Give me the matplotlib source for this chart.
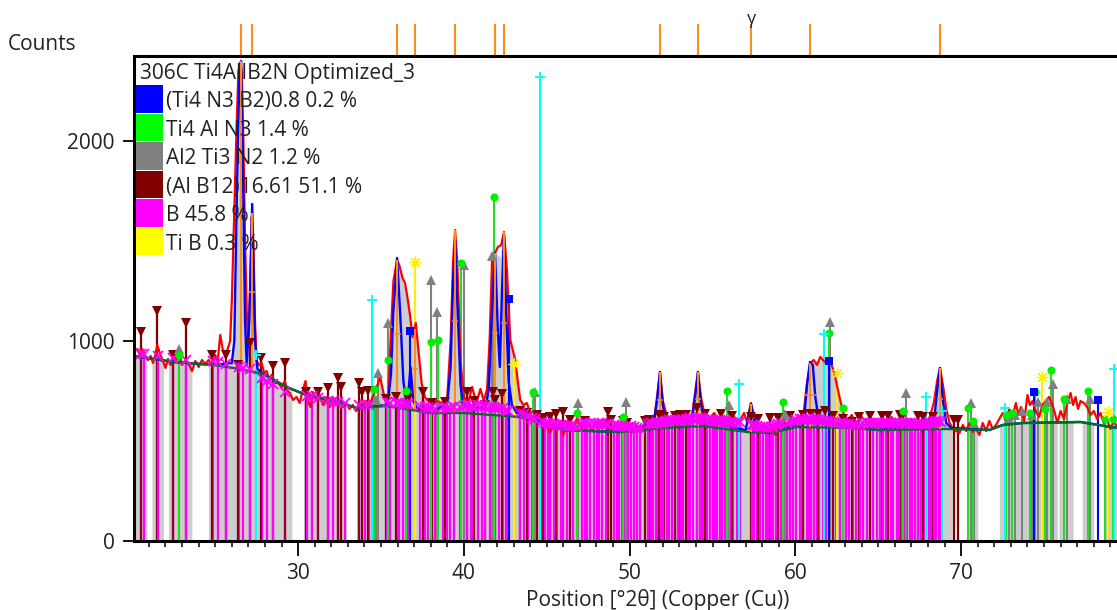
import numpy as np
import matplotlib
matplotlib.use('Agg')
import matplotlib.pyplot as plt
from matplotlib.patches import Rectangle

plt.rcParams['font.family'] = ['Open Sans', 'DejaVu Sans']

# measured profile (red)
obs_x = [20.1, 20.3, 20.45, 20.6, 20.8, 20.95, 21.1, 21.25, 21.4, 21.5, 21.7, 21.85, 22.0, 22.15, 22.3, 22.5, 22.65, 22.8, 23.0, 23.2,
         23.4, 23.6, 23.8, 24.0, 24.2, 24.4, 24.6, 24.8, 25.0, 25.15, 25.3, 25.45, 25.6, 25.75, 25.9, 26.0, 26.1, 26.2, 26.3, 26.4,
         26.5, 26.6, 26.7, 26.8, 26.9, 27.0, 27.1, 27.2, 27.3, 27.4, 27.5, 27.65, 27.8, 27.95, 28.1, 28.25, 28.4, 28.6, 28.8, 29.0,
         29.2, 29.35, 29.5, 29.7, 29.9, 30.1, 30.3, 30.45, 30.6, 30.75, 30.9, 31.1, 31.3, 31.5, 31.7, 31.9, 32.1, 32.3, 32.5, 32.7,
         32.9, 33.1, 33.3, 33.5, 33.7, 33.9, 34.1, 34.3, 34.5, 34.7, 34.95, 35.15, 35.3, 35.45, 35.6, 35.75, 35.97, 36.1, 36.3, 36.45,
         36.6, 36.75, 36.9, 37.1, 37.3, 37.45, 37.65, 37.85, 38.1, 38.4, 38.7, 39.0, 39.2, 39.35, 39.47, 39.6, 39.8, 40.0, 40.25, 40.5,
         40.75, 41.0, 41.2, 41.4, 41.55, 41.7, 41.88, 42.05, 42.25, 42.42, 42.6, 42.8, 43.1, 43.25, 43.4, 43.6, 43.8, 44.0, 44.2, 44.4,
         44.6, 44.8, 45.0, 45.2, 45.4, 45.6, 45.8, 46.0, 46.3, 46.6, 46.8, 47.1, 47.4, 47.7, 48.0, 48.3, 48.6, 48.9, 49.2, 49.5,
         49.8, 50.1, 50.4, 50.7, 51.0, 51.3, 51.5, 51.65, 51.83, 52.0, 52.2, 52.4, 52.7, 53.0, 53.3, 53.6, 53.8, 53.95, 54.12, 54.3,
         54.5, 54.8, 55.1, 55.4, 55.7, 56.0, 56.3, 56.5, 56.7, 56.9, 57.1, 57.2, 57.32, 57.45, 57.65, 57.9, 58.2, 58.5, 58.8, 59.1,
         59.4, 59.7, 60.0, 60.3, 60.5, 60.7, 60.9, 61.1, 61.3, 61.5, 61.7, 61.9, 62.1, 62.3, 62.5, 62.7, 62.9, 63.1, 63.4, 63.7,
         64.0, 64.3, 64.6, 64.9, 65.2, 65.5, 65.8, 66.1, 66.4, 66.7, 67.0, 67.3, 67.6, 67.9, 68.1, 68.35, 68.55, 68.72, 68.9, 69.1,
         69.3, 69.5, 69.7, 69.9, 70.1, 70.3, 70.5, 70.7, 70.9, 71.1, 71.3, 71.5, 71.7, 71.9, 72.1, 72.3, 72.5, 72.7, 72.9, 73.1,
         73.3, 73.45, 73.6, 73.8, 74.0, 74.15, 74.3, 74.5, 74.7, 74.9, 75.1, 75.3, 75.5, 75.65, 75.8, 76.0, 76.2, 76.4, 76.6, 76.75,
         76.9, 77.05, 77.2, 77.4, 77.6, 77.8, 78.0, 78.2, 78.4, 78.6, 78.8, 79.0, 79.2, 79.4]
obs_y = [945, 960, 930, 960, 920, 905, 925, 890, 935, 980, 930, 900, 865, 910, 880, 930, 900, 950, 880, 905,
         885, 850, 900, 870, 905, 885, 905, 875, 930, 900, 1030, 960, 920, 960, 1000, 1200, 1500, 1800, 2100, 2350,
         2390, 2350, 2000, 1500, 1150, 980, 1250, 1620, 1500, 1100, 900, 880, 890, 840, 850, 810, 830, 790, 790, 770,
         800, 750, 740, 705, 720, 690, 760, 800, 700, 670, 745, 710, 730, 680, 720, 670, 710, 680, 690, 670,
         690, 660, 680, 650, 690, 670, 700, 680, 720, 760, 820, 740, 700, 740, 1050, 1300, 1405, 1380, 1315, 1290,
         1215, 1130, 1020, 1090, 920, 790, 720, 700, 680, 700, 690, 720, 1000, 1400, 1555, 1400, 900, 720, 690, 770,
         690, 760, 700, 760, 1000, 1400, 1440, 1470, 1480, 1545, 1350, 1005, 905, 800, 705, 680, 690, 640, 650, 600,
         620, 570, 590, 540, 590, 550, 600, 530, 600, 550, 610, 560, 600, 550, 590, 570, 610, 560, 590, 550,
         590, 540, 580, 550, 590, 570, 620, 720, 845, 700, 640, 600, 620, 590, 630, 600, 650, 740, 845, 720,
         640, 610, 640, 590, 620, 580, 620, 590, 610, 640, 590, 640, 690, 640, 570, 560, 540, 570, 530, 570,
         590, 560, 610, 590, 640, 790, 890, 905, 880, 920, 900, 890, 895, 855, 780, 705, 640, 600, 630, 580,
         620, 590, 610, 570, 600, 570, 620, 580, 610, 590, 610, 570, 600, 580, 620, 690, 800, 865, 780, 660,
         590, 560, 550, 540, 580, 550, 590, 545, 560, 530, 590, 550, 600, 560, 580, 610, 640, 600, 660, 620,
         690, 630, 670, 600, 730, 680, 700, 650, 620, 680, 700, 720, 680, 640, 590, 650, 610, 690, 740, 680,
         720, 660, 700, 690, 670, 630, 650, 610, 640, 590, 610, 560, 600, 570]

# calculated profile (blue)
calc_x = [20.1, 22.5, 24.9, 26.0, 26.15, 26.3, 26.45, 26.56, 26.7, 26.8, 26.9, 27.05, 27.12, 27.23, 27.4, 27.55, 27.9, 29.3, 30.5, 32.3,
          33.54, 35.35, 35.45, 35.6, 35.75, 35.97, 36.15, 36.35, 36.5, 36.6, 36.78, 36.95, 37.2, 38.0, 39.0, 39.2, 39.35, 39.47, 39.6, 39.8,
          39.95, 41.3, 41.5, 41.7, 41.88, 42.05, 42.17, 42.3, 42.42, 42.55, 42.7, 42.9, 43.2, 46.0, 49.4, 51.45, 51.65, 51.83, 52.0, 52.2,
          53.75, 53.95, 54.12, 54.3, 54.5, 57.0, 57.2, 57.32, 57.45, 57.65, 58.5, 60.5, 60.7, 60.88, 61.05, 61.2, 61.4, 63.5, 65.1, 68.35,
          68.55, 68.72, 68.9, 69.1, 69.4, 71.7, 72.5, 73.7, 77.2, 79.4]
calc_y = [925, 895, 880, 890, 1000, 1700, 2300, 2400, 1700, 1100, 880, 1100, 1300, 1685, 1000, 860, 835, 770, 730, 697,
          665, 680, 720, 830, 1150, 1415, 1150, 800, 710, 690, 870, 700, 660, 640, 690, 870, 1300, 1500, 1200, 780,
          680, 660, 760, 1150, 1440, 1050, 870, 1250, 1530, 1150, 800, 680, 640, 555, 545, 590, 700, 845, 680, 590,
          600, 720, 845, 690, 600, 555, 640, 685, 630, 550, 540, 590, 780, 895, 880, 720, 610, 565, 555, 590,
          750, 865, 700, 590, 565, 555, 580, 590, 595, 565]

# background (green)
bg_x = [20.1, 22.48, 24.9, 26.5, 27.9, 29.3, 30.5, 32.3, 33.54, 35.35, 38.0, 40.0, 43.4, 46.0, 49.4, 52.0, 54.4, 57.1, 58.5, 60.1,
        63.5, 65.1, 69.1, 71.7, 72.5, 73.7, 77.2, 79.4]
bg_y = [925, 895, 880, 860, 835, 770, 730, 697, 665, 675, 640, 640, 620, 555, 545, 565, 575, 545, 540, 570,
        565, 555, 560, 555, 580, 590, 595, 565]

# envelope of the grey filled area
fill_x = [20.1, 22.48, 24.9, 25.9, 26.15, 26.56, 26.95, 27.05, 27.23, 27.5, 27.9, 29.3, 30.5, 32.3, 33.54, 34.6, 34.95, 35.3, 35.45, 35.6,
          35.97, 36.3, 36.6, 36.9, 37.1, 37.45, 37.8, 39.0, 39.2, 39.47, 39.8, 40.0, 41.3, 41.55, 41.88, 42.17, 42.42, 42.8, 43.1, 43.4,
          44.0, 46.0, 49.4, 51.45, 51.83, 52.2, 53.75, 54.12, 54.5, 57.0, 57.32, 57.65, 58.5, 60.3, 60.9, 61.5, 62.3, 62.7, 63.1, 65.1,
          68.35, 68.72, 69.1, 71.7, 72.5, 73.7, 77.2, 79.4]
fill_y = [925, 895, 880, 880, 1000, 2390, 950, 950, 1680, 860, 835, 770, 730, 697, 665, 690, 810, 680, 720, 830,
          1405, 1300, 1200, 1020, 1060, 790, 680, 690, 870, 1540, 780, 660, 660, 1000, 1440, 1420, 1530, 1005, 900, 705,
          640, 555, 545, 590, 845, 590, 600, 845, 600, 555, 685, 550, 540, 590, 890, 905, 860, 700, 590, 555,
          590, 865, 590, 555, 580, 590, 595, 565]
band_start = [20.17, 21.18, 22.18, 24.59, 30.32, 33.54, 70.35, 72.3, 75.9, 77.3, 78.7]
band_end = [20.88, 21.88, 23.59, 29.62, 32.93, 69.45, 71.0, 75.8, 76.75, 78.0, 79.4]

# reference sticks per phase
magenta_x = [20.53, 20.73, 21.52, 22.48, 23.25, 24.85, 25.14, 25.66, 26.42, 26.66,
             27.10, 27.81, 28.11, 28.51, 29.22, 30.52, 30.83, 31.23, 31.83, 32.09,
             32.43, 32.83, 33.70, 34.04, 34.30, 35.35, 35.95, 36.35, 36.65, 37.36,
             37.66, 37.86, 38.26, 38.77, 39.17, 39.77, 40.17, 40.58, 40.88, 41.28,
             41.58, 41.88, 42.39, 42.69, 43.39, 43.89, 44.29, 44.90, 45.20, 45.60,
             46.00, 46.40, 46.81, 47.31, 47.61, 48.01, 48.31, 48.72, 49.22, 49.52,
             49.92, 50.10, 50.47, 51.27, 51.43, 51.73, 52.03, 52.54, 52.94, 53.24,
             53.44, 53.64, 54.24, 54.44, 54.65, 55.05, 55.25, 55.45, 55.55, 56.05,
             56.25, 56.65, 57.36, 57.66, 58.06, 58.36, 58.67, 58.97, 59.47, 59.87,
             60.27, 60.47, 60.67, 60.97, 61.28, 61.68, 62.28, 62.68, 63.08, 63.48,
             63.88, 64.09, 64.50, 64.90, 65.30, 65.60, 65.90, 66.40, 66.90, 67.20,
             67.60, 67.90, 68.20, 68.50, 68.80,
             38.00, 39.00, 39.40, 40.00, 40.40, 41.10, 41.75, 42.10, 42.55, 43.60,
             44.10, 44.70, 45.05, 45.45, 45.85, 46.20, 46.60, 47.15, 47.45, 47.85,
             48.15, 48.55, 49.05, 49.35, 49.70, 50.25, 50.65, 51.10, 51.58, 51.90,
             52.25, 52.40, 52.75, 53.10, 53.55, 53.85, 54.05, 54.34, 54.85, 55.15,
             55.75, 55.90, 56.15, 56.45, 57.50, 57.85, 58.20, 58.50, 58.82, 59.15,
             59.65, 60.05, 60.37, 60.82, 61.12, 61.45, 61.85, 62.05, 62.45, 62.85,
             63.25, 63.65, 64.30, 64.70, 65.10, 65.45, 65.75, 66.10, 66.25, 66.60,
             66.75, 67.05, 67.40, 67.75, 68.05, 68.35, 68.65, 35.55, 36.10, 36.50]
magenta_y = [935, 935, 925, 915, 905, 900, 895, 885, 870, 865,
             860, 815, 800, 785, 745, 725, 725, 715, 700, 700,
             695, 690, 680, 680, 680, 695, 690, 685, 685, 675,
             670, 665, 660, 670, 665, 670, 680, 670, 680, 675,
             670, 665, 665, 650, 640, 625, 610, 590, 585, 580,
             580, 575, 570, 590, 585, 585, 590, 585, 580, 575,
             570, 575, 565, 590, 585, 590, 595, 605, 605, 605,
             610, 615, 615, 610, 605, 605, 600, 605, 600, 595,
             590, 595, 580, 575, 570, 565, 570, 585, 590, 600,
             610, 605, 610, 605, 610, 600, 595, 590, 585, 580,
             580, 590, 590, 590, 590, 590, 585, 590, 590, 585,
             585, 585, 590, 600, 595,
             665, 665, 670, 675, 675, 680, 670, 665, 655, 635,
             615, 595, 590, 585, 580, 575, 575, 590, 585, 585,
             590, 585, 580, 575, 570, 570, 565, 585, 590, 590,
             600, 605, 605, 605, 612, 612, 615, 612, 605, 600,
             600, 595, 592, 592, 578, 572, 568, 568, 578, 588,
             595, 605, 608, 608, 608, 605, 600, 598, 592, 588,
             583, 580, 590, 590, 590, 590, 588, 587, 590, 590,
             590, 588, 585, 585, 588, 595, 598, 692, 688, 685]

brown_x = [20.50, 21.50, 22.44, 23.22, 24.82, 25.63, 26.40, 27.08, 27.79, 28.49,
           29.20, 30.50, 31.21, 31.81, 32.41, 32.60, 33.68, 33.85, 34.20, 35.33,
           35.93, 36.63, 37.56, 38.10, 38.87, 40.20, 40.60, 41.26, 41.76, 41.90,
           42.30, 43.37, 43.80, 44.40, 44.80, 45.18, 45.58, 45.98, 46.38, 47.29,
           48.70, 48.90, 49.58, 49.82, 50.93, 51.17, 51.77, 52.09, 52.74, 53.04,
           53.42, 54.08, 54.55, 55.53, 56.15, 57.34, 57.76, 58.47, 58.95, 59.67,
           60.45, 60.95, 61.38, 61.78, 62.26, 62.89, 63.39, 63.86, 64.48, 65.20,
           65.58, 66.30, 66.50, 67.40, 67.70, 68.30, 69.56, 69.82]
brown_y = [1045, 1150, 930, 1090, 930, 930, 880, 990, 915, 875,
           890, 745, 745, 765, 815, 770, 790, 745, 750, 710,
           720, 710, 745, 690, 695, 745, 700, 680, 745, 705,
           735, 650, 640, 630, 615, 620, 635, 645, 605, 600,
           645, 605, 600, 590, 600, 605, 630, 620, 625, 630,
           630, 665, 635, 635, 625, 620, 610, 615, 615, 625,
           630, 635, 635, 650, 625, 610, 595, 620, 625, 625,
           625, 630, 630, 625, 620, 620, 605, 605]

grey_x = [22.84, 34.70, 34.84, 35.40, 38.00, 38.40, 40.00, 41.70, 44.30, 46.90,
          49.76, 56.00, 59.40, 62.08, 66.70, 70.57, 70.80, 72.90, 73.25, 73.67,
          74.30, 74.65, 75.20, 75.55, 76.40, 77.77]
grey_y = [960, 705, 840, 1090, 1305, 1145, 1380, 1425, 745, 690,
          695, 680, 635, 1095, 740, 690, 590, 615, 630, 650,
          630, 695, 695, 785, 710, 710]

green_x = [22.83, 34.60, 35.45, 36.50, 38.00, 38.44, 39.80, 41.80, 44.20, 46.80,
           49.60, 55.90, 59.25, 62.00, 62.85, 66.50, 70.40, 70.70, 72.70, 73.06,
           74.15, 74.45, 75.05, 75.40, 76.20, 77.65, 78.67, 79.16]
green_y = [930, 760, 905, 750, 995, 1005, 1390, 1720, 745, 640,
           620, 750, 695, 1040, 665, 650, 665, 600, 630, 640,
           640, 745, 660, 855, 710, 750, 610, 610]

cyan_x = [27.45, 34.46, 44.60, 56.60, 61.72, 67.90, 68.85, 72.64, 79.20]
cyan_y = [930, 1205, 2320, 785, 1035, 720, 650, 665, 860]

blue_x = [36.78, 42.72, 62.03, 74.37, 78.25]
blue_y = [1050, 1210, 900, 745, 705]

yellow_x = [37.06, 43.05, 62.50, 74.90, 78.87]
yellow_y = [1395, 885, 840, 820, 645]

# fitted peaks (orange)
peak_x = [26.56, 27.23, 35.97, 37.06, 39.47, 41.88, 42.42, 51.83, 54.12, 57.32, 60.88, 68.72]
peak_y = [2400, 1640, 1405, 1060, 1555, 1440, 1545, 845, 845, 685, 890, 865]
peak_base = [870, 850, 670, 660, 650, 640, 635, 565, 575, 545, 570, 560]
peak_fwhm = [0.28, 0.22, 0.32, 0.28, 0.2, 0.28, 0.28, 0.2, 0.26, 0.2, 0.6, 0.26]

legend_labels = ['(Ti4 N3 B2)0.8 0.2 %', 'Ti4 Al N3 1.4 %', 'Al2 Ti3 N2 1.2 %',
                 '(Al B12)16.61 51.1 %', 'B 45.8 %', 'Ti B 0.3 %']
legend_colors = ['#0000ff', '#00ff00', '#808080', '#800000', '#ff00ff', '#ffff00']
title_text = '306C Ti4AlIB2N Optimized_3'

W, H = 1117, 610
fig = plt.figure(figsize=(W / 100, H / 100), dpi=100)
ax = fig.add_axes([134 / W, 1 - 541 / H, (W - 134) / W, (541 - 56) / H])
ax.set_xlim(20.1, 79.4)
ax.set_ylim(0, 2425)


def to_fig(px, py):
    return px / W, 1 - py / H


# grey bands under the envelope
for a, b in zip(band_start, band_end):
    inner = [x for x in fill_x if a < x < b]
    xs = np.array([a] + inner + [b])
    ys = np.interp(xs, fill_x, fill_y)
    ax.fill_between(xs, 0, ys, color='#cdcdcd', lw=0, zorder=1)

stick_lw = 1.5
ax.vlines(brown_x, 0, brown_y, color='#800000', lw=1.6, zorder=2)
ax.vlines(magenta_x, 0, magenta_y, color='#ff00ff', lw=1.6, zorder=2.1)
ax.vlines(brown_x[::2], 0, brown_y[::2], color='#800000', lw=1.2, zorder=2.15)
ax.vlines(grey_x, 0, grey_y, color='#808080', lw=stick_lw, zorder=2.2)
ax.vlines(green_x, 0, green_y, color='#22dd22', lw=stick_lw, zorder=2.3)
ax.vlines(blue_x, 0, blue_y, color='#0000ff', lw=stick_lw, zorder=2.4)
ax.vlines(yellow_x, 0, yellow_y, color='#ffee00', lw=stick_lw, zorder=2.5)
ax.vlines(cyan_x, 0, cyan_y, color='#00ffff', lw=stick_lw, zorder=2.6)

ax.plot(obs_x, obs_y, color='#ff0000', lw=1.6, zorder=3)
ax.plot(calc_x, calc_y, color='#0000ff', lw=1.7, zorder=3.1)
ax.plot(bg_x, bg_y, color='#007020', lw=1.7, zorder=3.2)

# orange fitted peak markers, plus the ticks above the frame
orange = '#ff8c1a'
ax.vlines(peak_x, peak_base, peak_y, color=orange, lw=1.5, zorder=3.3)
for x, y, b, w in zip(peak_x, peak_y, peak_base, peak_fwhm):
    ax.plot([x - w / 2, x + w / 2], [(y + b) / 2, (y + b) / 2], color=orange, lw=1.2, zorder=3.3)
ax.vlines(peak_x, 1, 1 + 32 / 485, color=orange, lw=1.5, clip_on=False,
          transform=ax.get_xaxis_transform(), zorder=5)

ax.plot(brown_x, brown_y, ls='', marker='v', ms=7, color='#800000', mew=0, zorder=4)
ax.plot(magenta_x, magenta_y, ls='', marker='x', ms=6.5, color='#ff00ff', mew=1.3, zorder=4.1)
ax.plot(grey_x, grey_y, ls='', marker='^', ms=7, color='#808080', mew=0, zorder=4.2)
ax.plot(green_x, green_y, ls='', marker='o', ms=5.8, color='#00ee00', mew=0, zorder=4.3)
ax.plot(blue_x, blue_y, ls='', marker='s', ms=5.5, color='#0000ff', mew=0, zorder=4.4)
ax.plot(yellow_x, yellow_y, ls='', marker=(8, 2, 0), ms=8.5, color='#ffee00', mew=0.9, zorder=4.5)
ax.plot(cyan_x, cyan_y, ls='', marker='+', ms=7, color='#00ffff', mew=1.4, zorder=4.6)

ax.spines['right'].set_visible(False)
for s in ['left', 'top', 'bottom']:
    ax.spines[s].set_linewidth(2.2)
    ax.spines[s].set_zorder(6)
ax.set_xticks([30, 40, 50, 60, 70])
ax.set_xticks(np.arange(21, 80), minor=True)
ax.set_yticks([0, 1000, 2000])
ax.tick_params(axis='x', which='major', length=11, width=1.3, labelsize=15, pad=5, labelcolor='#222222')
ax.tick_params(axis='x', which='minor', length=4, width=1.1)
ax.tick_params(axis='y', which='major', length=8, width=1.3, labelsize=15, pad=6, labelcolor='#222222')

# legend block
for i, (lab, col) in enumerate(zip(legend_labels, legend_colors)):
    top = 85 + i * 28.5
    x0, y0 = to_fig(135.5, top + 27.5)
    fig.add_artist(Rectangle((x0, y0), 27.5 / W, 27.5 / H, transform=fig.transFigure, color=col, lw=0, zorder=7))
    fx, fy = to_fig(166, top + 16.5)
    fig.text(fx, fy, lab, fontsize=15, color='#222222', va='center', ha='left', zorder=8)
fx, fy = to_fig(140, 73)
fig.text(fx, fy, title_text, fontsize=15, color='#222222', va='center', ha='left', zorder=8)

fx, fy = to_fig(8, 44)
fig.text(fx, fy, 'Counts', fontsize=15, color='#222222', va='center', ha='left')
fx, fy = to_fig(658, 600)
fig.text(fx, fy, 'Position [°2θ] (Copper (Cu))', fontsize=15, color='#222222', va='center', ha='center')
fx, fy = to_fig(751, 19)
fig.text(fx, fy, 'γ', fontsize=13, color='#222222', va='center', ha='center')

fig.savefig('out.png', dpi=100)
